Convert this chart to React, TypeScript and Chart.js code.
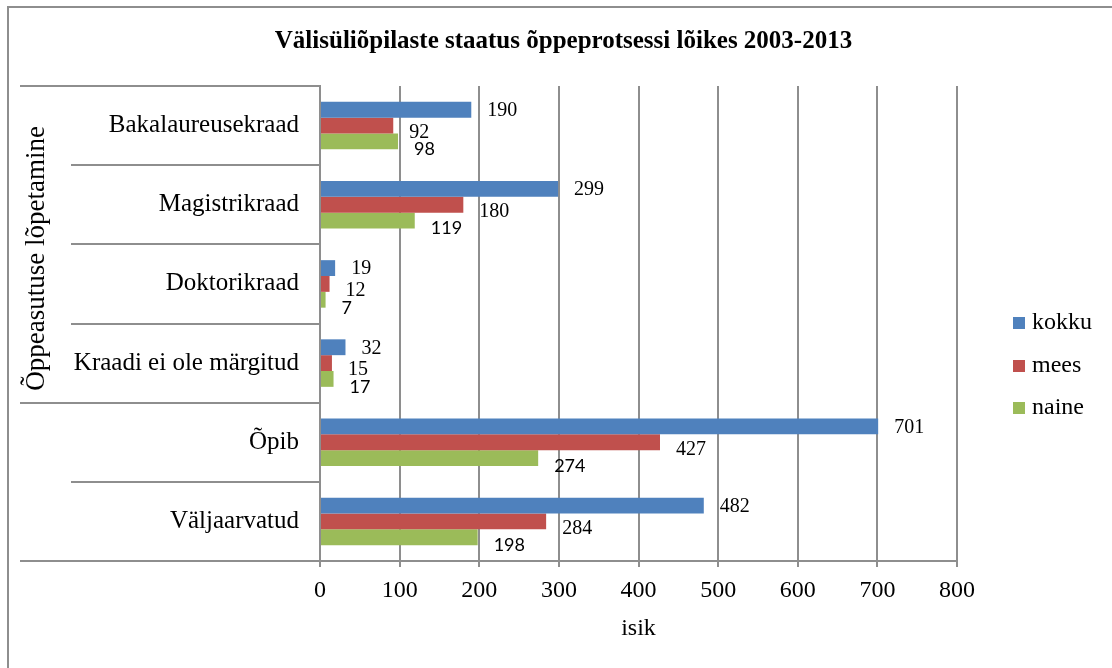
import React, { useEffect, useRef } from "react";
import { Chart, registerables } from "chart.js";

Chart.register(...registerables);

// ---- data ----
const categories = [
  "Bakalaureusekraad",
  "Magistrikraad",
  "Doktorikraad",
  "Kraadi ei ole märgitud",
  "Õpib",
  "Väljaarvatud",
];
const groupLabel = "Õppeasutuse lõpetamine";
const groupSize = 4; // first four categories belong to the group
const seriesNames = ["kokku", "mees", "naine"];
const kokku = [190, 299, 19, 32, 701, 482];
const mees = [92, 180, 12, 15, 427, 284];
const naine = [98, 119, 7, 17, 274, 198];
const xMin = 0;
const xMax = 800;
const xStep = 100;
const chartTitle = "Välisüliõpilaste staatus õppeprotsessi lõikes 2003-2013";
const xAxisTitle = "isik";

// ---- styles ----
const COLORS = ["#4F81BD", "#C0504D", "#9BBB59"];
const GRID = "#8e8e8e";
const SERIF = '"Liberation Serif", "Times New Roman", serif';
const SANS = 'Lato, "Liberation Sans", sans-serif';

const decorPlugin = {
  id: "decor",
  afterDraw(chart: any) {
    const { ctx, chartArea } = chart;
    const n = categories.length;
    const band = (chartArea.bottom - chartArea.top) / n;
    ctx.save();

    // title
    ctx.fillStyle = "#000";
    ctx.font = `bold 25px ${SERIF}`;
    ctx.textAlign = "center";
    ctx.textBaseline = "middle";
    ctx.fillText(chartTitle, (chartArea.left + chartArea.right) / 2 - 75, chartArea.top - 44);

    // category separators in the label area
    ctx.strokeStyle = GRID;
    ctx.lineWidth = 2;
    for (let i = 0; i <= n; i++) {
      const y = Math.round(chartArea.top + i * band);
      const full = i === 0 || i === groupSize || i === n;
      const x0 = full ? 20 : 71;
      ctx.beginPath();
      ctx.moveTo(x0, y);
      ctx.lineTo(chartArea.left, y);
      ctx.stroke();
    }

    // group label (rotated)
    ctx.save();
    ctx.translate(37, chartArea.top + (groupSize * band) / 2 + 14);
    ctx.rotate(-Math.PI / 2);
    ctx.fillStyle = "#000";
    ctx.font = `27px ${SERIF}`;
    ctx.textAlign = "center";
    ctx.textBaseline = "middle";
    ctx.fillText(groupLabel, 0, 0);
    ctx.restore();

    // data labels
    const dy = [0, 6, 7];
    chart.data.datasets.forEach((ds: any, di: number) => {
      const meta = chart.getDatasetMeta(di);
      ctx.fillStyle = "#000";
      ctx.font = di === 2 ? `18px ${SANS}` : `20px ${SERIF}`;
      ctx.textAlign = "left";
      ctx.textBaseline = "middle";
      meta.data.forEach((bar: any, i: number) => {
        ctx.fillText(String(ds.data[i]), bar.x + 16, bar.y + dy[di] + 1);
      });
    });

    // legend
    const lx = chartArea.right + 56;
    const ly0 = chartArea.top + 237;
    const step = 42.5;
    chart.data.datasets.forEach((ds: any, di: number) => {
      const cy = ly0 + di * step;
      ctx.fillStyle = ds.backgroundColor;
      ctx.fillRect(lx, Math.round(cy - 6), 12, 12);
      ctx.fillStyle = "#000";
      ctx.font = `24px ${SERIF}`;
      ctx.textAlign = "left";
      ctx.textBaseline = "middle";
      ctx.fillText(ds.label, lx + 19, cy);
    });

    ctx.restore();
  },
};

export default function App() {
  const ref = useRef<HTMLCanvasElement | null>(null);

  useEffect(() => {
    if (!ref.current) return;
    const seriesData = [kokku, mees, naine];
    const chart = new Chart(ref.current, {
      type: "bar",
      data: {
        labels: categories,
        datasets: seriesNames.map((name, i) => ({
          label: name,
          data: seriesData[i],
          backgroundColor: COLORS[i],
          borderWidth: 0,
          categoryPercentage: 0.6,
          barPercentage: 1.0,
        })),
      },
      options: {
        indexAxis: "y",
        responsive: false,
        maintainAspectRatio: false,
        animation: false,
        devicePixelRatio: 1,
        layout: { padding: { left: 0, right: 155, top: 86, bottom: 0 } },
        plugins: {
          legend: { display: false },
          tooltip: { enabled: false },
          title: { display: false },
        },
        scales: {
          x: {
            type: "linear",
            min: xMin,
            max: xMax,
            ticks: {
              stepSize: xStep,
              color: "#000",
              font: { family: SERIF, size: 24 },
              padding: 9,
            },
            grid: { color: GRID, lineWidth: 2, tickLength: 6, drawTicks: true },
            border: { color: GRID, width: 2 },
            title: {
              display: true,
              text: xAxisTitle,
              color: "#000",
              font: { family: SERIF, size: 24 },
              padding: { top: 0, bottom: 25 },
            },
            afterFit: (s: any) => {
              s.height = 107;
            },
          },
          y: {
            type: "category",
            grid: { display: false, drawTicks: false },
            border: { display: true, color: GRID, width: 2 },
            ticks: {
              color: "#000",
              font: { family: SERIF, size: 25 },
              padding: 21,
            },
            afterFit: (s: any) => {
              s.width = 320;
            },
          },
        },
      },
      plugins: [decorPlugin],
    } as any);
    return () => chart.destroy();
  }, []);

  return (
    <div
      style={{
        position: "fixed",
        left: 0,
        top: 0,
        width: 1112,
        height: 668,
        overflow: "hidden",
        background: "#fff",
      }}
    >
      <div
        style={{
          position: "absolute",
          left: 7,
          top: 6,
          width: 2000,
          height: 2000,
          borderLeft: "2px solid #8e8e8e",
          borderTop: "2px solid #8e8e8e",
        }}
      />
      <canvas
        ref={ref}
        width={1112}
        height={668}
        style={{ position: "absolute", left: 0, top: 0, display: "block" }}
      />
    </div>
  );
}
